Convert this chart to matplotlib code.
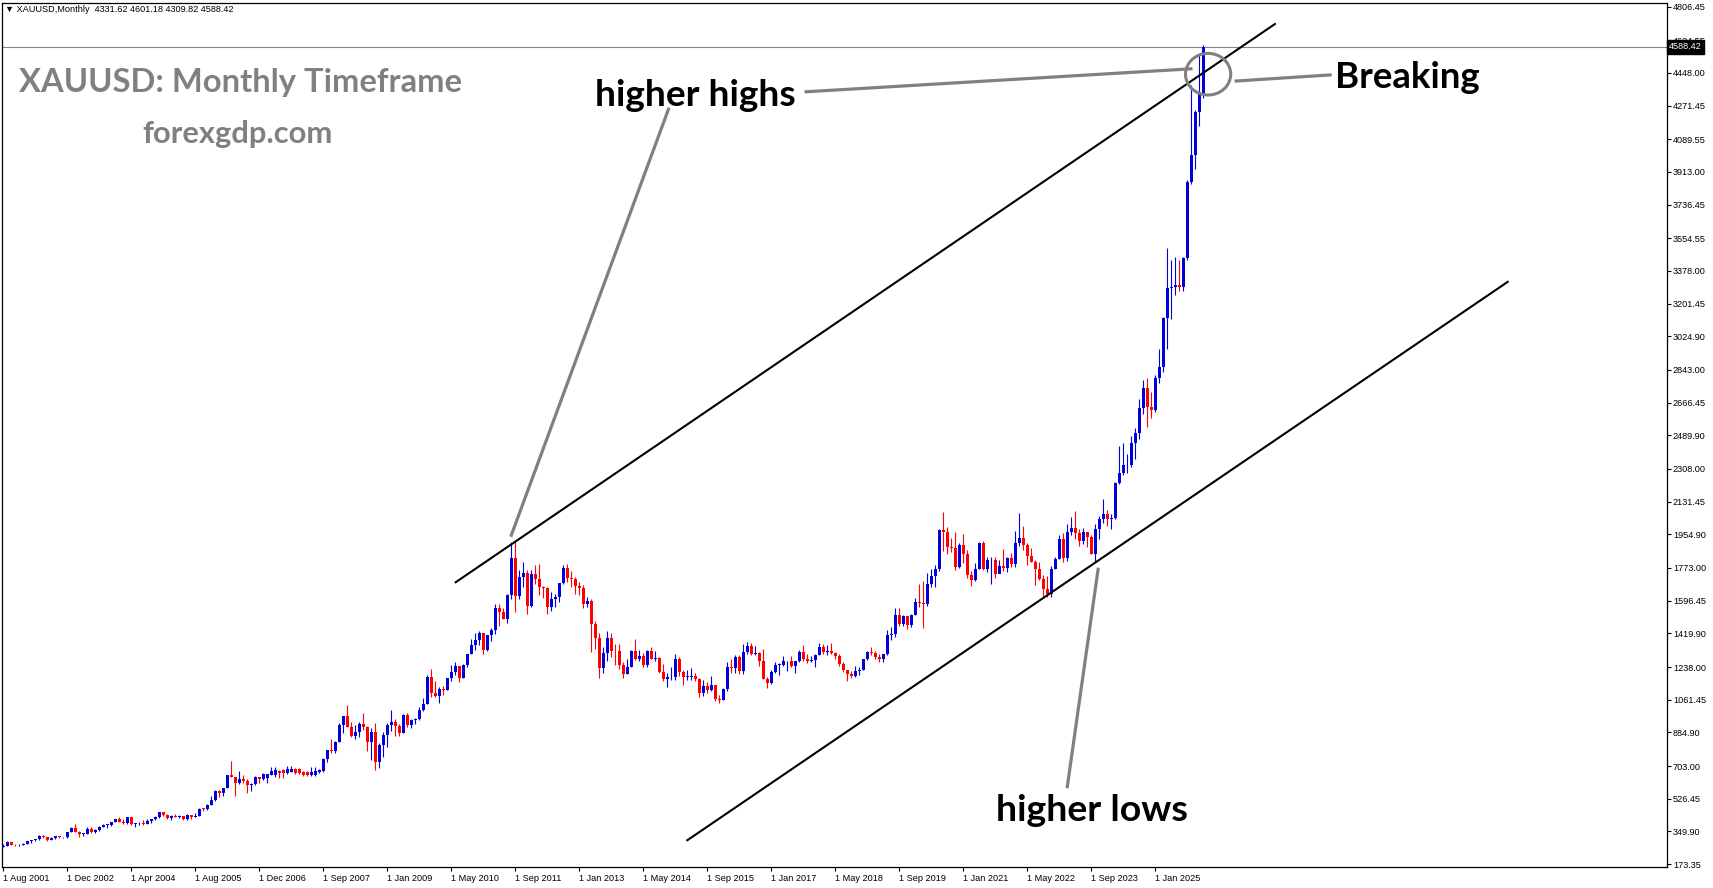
import numpy as np
import matplotlib
matplotlib.use("Agg")
import matplotlib.pyplot as plt
from matplotlib.patches import Ellipse
import matplotlib.transforms as mtransforms

# ---------------- data: XAUUSD monthly bars (broker bars, Aug 2001 .. Jan 2026) ----------------
opens = [
    266, 273, 293, 279, 275,
    279, 282, 297, 301, 308, 327, 318, 305, 313, 324, 317, 318,
    347, 367, 347, 335, 337, 361, 346, 355, 376, 384, 386, 398,
    416, 400, 397, 427, 388, 393, 396, 391, 407, 416, 428, 453,
    438, 422, 435, 429, 435, 417, 437, 430, 433, 472, 470, 494,
    517, 568, 556, 583, 654, 643, 614, 632, 624, 599, 604, 646,
    634, 637, 655, 655, 678, 683, 665, 673, 687, 687, 673, 673, 655, 655, 669,
    678, 743, 790, 784,
    834, 923, 972, 916, 863, 886, 928, 913, 833, 885, 724, 815,
    870, 927, 943, 917, 883, 979, 927, 954, 956, 1008, 1040, 1182,
    1095, 1082, 1118, 1113, 1179, 1213, 1246, 1181, 1248, 1307, 1358, 1386,
    1421, 1332, 1411, 1439, 1556, 1536, 1500, 1628, 1829, 1620, 1725, 1746,
    1566, 1738, 1711, 1668, 1664, 1560, 1604, 1614, 1692, 1773, 1720, 1713,
    1676, 1664, 1579, 1596, 1472, 1393, 1235, 1313, 1395, 1327, 1323, 1251,
    1202, 1240, 1327, 1284, 1296, 1250, 1327, 1283, 1287, 1209, 1171, 1182,
    1184, 1283, 1213, 1183, 1183, 1190, 1172, 1095, 1134, 1115, 1142, 1065,
    1061, 1118, 1238, 1234, 1293, 1215, 1321, 1351, 1309, 1316, 1273, 1174,
    1152, 1211, 1248, 1249, 1268, 1269, 1242, 1269, 1321, 1280, 1270, 1275,
    1303, 1345, 1318, 1325, 1316, 1298, 1253, 1224, 1201, 1192, 1215, 1222,
    1283, 1321, 1313, 1292, 1284, 1306, 1410, 1414, 1520, 1472, 1514, 1464,
    1517, 1589, 1586, 1577, 1686, 1730, 1768, 1976, 1968, 1887, 1879, 1777,
    1898, 1848, 1734, 1708, 1769, 1907, 1770, 1814, 1814, 1743, 1783, 1775,
    1829, 1797, 1909, 1937, 1897, 1837, 1807, 1766, 1711, 1661, 1634, 1769,
    1824, 1928, 1827, 1969, 1990, 1963, 1919, 1965, 1940, 1849, 1984, 2036,
    2063, 2040, 2044, 2230, 2286, 2327, 2327, 2448, 2503, 2635, 2744, 2643,
    2625, 2798, 2858, 3124, 3288, 3289, 3303, 3290, 3448, 3859, 4003, 4239,
    4331.62,
]
highs = [
    282, 296, 294, 284, 281,
    285, 299, 304, 310, 328, 332, 320, 318, 326, 326, 322, 349,
    372, 389, 354, 342, 373, 372, 362, 379, 392, 392, 399, 417,
    427, 417, 428, 428, 395, 401, 409, 415, 418, 434, 455, 456,
    443, 438, 446, 437, 432, 442, 437, 448, 474, 478, 496, 540,
    572, 573, 585, 654, 730, 643, 675, 654, 631, 614, 650, 638,
    663, 662, 696, 696, 681, 686, 705, 702, 692, 690, 676, 676, 696, 696, 685,
    745, 791, 848, 839,
    935, 976, 1032, 941, 924, 941, 989, 917, 910, 934, 829, 888,
    936, 1006, 959, 931, 984, 990, 959, 965, 1024, 1070, 1195, 1227,
    1162, 1128, 1135, 1180, 1249, 1266, 1243, 1252, 1310, 1387, 1424, 1431,
    1424, 1412, 1448, 1576, 1577, 1556, 1633, 1912, 1921, 1760, 1803, 1764,
    1764, 1791, 1793, 1676, 1668, 1641, 1632, 1692, 1788, 1796, 1755, 1724,
    1695, 1683, 1617, 1604, 1488, 1424, 1348, 1434, 1424, 1362, 1361, 1267,
    1280, 1332, 1392, 1331, 1315, 1332, 1345, 1322, 1294, 1255, 1208, 1239,
    1307, 1293, 1224, 1224, 1232, 1205, 1178, 1170, 1157, 1191, 1143, 1088,
    1123, 1263, 1283, 1304, 1304, 1362, 1375, 1367, 1352, 1318, 1337, 1182,
    1220, 1264, 1261, 1295, 1271, 1296, 1271, 1331, 1357, 1306, 1299, 1307,
    1366, 1361, 1356, 1366, 1317, 1309, 1265, 1223, 1214, 1243, 1237, 1284,
    1326, 1346, 1324, 1310, 1306, 1439, 1453, 1555, 1557, 1517, 1516, 1524,
    1611, 1689, 1704, 1748, 1765, 1789, 1984, 2075, 1992, 1933, 1966, 1906,
    1959, 1871, 1756, 1798, 1913, 1917, 1834, 1834, 1834, 1814, 1877, 1831,
    1853, 1974, 2070, 1998, 1909, 1879, 1814, 1808, 1735, 1730, 1786, 1833,
    1950, 1960, 2010, 2049, 2079, 1984, 1988, 1949, 1953, 2009, 2052, 2146,
    2088, 2065, 2236, 2432, 2450, 2388, 2484, 2531, 2686, 2790, 2801, 2726,
    2817, 2956, 3128, 3500, 3435, 3452, 3439, 3454, 3871, 4381, 4245, 4550,
    4601.18,
]
lows = [
    265, 271, 276, 272, 271,
    277, 281, 287, 299, 306, 316, 299, 301, 310, 312, 315, 316,
    345, 346, 320, 323, 336, 343, 341, 352, 372, 368, 377, 398,
    398, 391, 389, 386, 371, 384, 387, 389, 396, 413, 421, 431,
    418, 410, 425, 422, 414, 414, 417, 429, 433, 460, 467, 491,
    513, 537, 541, 582, 643, 543, 605, 614, 560, 570, 599, 612,
    628, 610, 652, 642, 637, 637, 662, 670, 660, 660, 650, 650, 650, 650, 666,
    671, 726, 775, 776,
    832, 880, 912, 859, 847, 858, 897, 786, 737, 681, 694, 751,
    807, 894, 866, 866, 880, 913, 908, 930, 952, 1003, 1040, 1075,
    1074, 1045, 1087, 1113, 1164, 1196, 1155, 1177, 1240, 1306, 1330, 1358,
    1309, 1324, 1381, 1418, 1462, 1496, 1478, 1605, 1534, 1603, 1671, 1523,
    1562, 1689, 1627, 1613, 1527, 1539, 1564, 1591, 1684, 1699, 1672, 1635,
    1626, 1555, 1564, 1321, 1338, 1180, 1208, 1271, 1292, 1251, 1227, 1181,
    1202, 1238, 1277, 1268, 1240, 1240, 1281, 1273, 1205, 1161, 1131, 1168,
    1167, 1191, 1142, 1170, 1170, 1162, 1077, 1080, 1098, 1107, 1052, 1046,
    1062, 1107, 1208, 1207, 1199, 1199, 1310, 1301, 1302, 1241, 1171, 1122,
    1146, 1206, 1194, 1241, 1214, 1237, 1204, 1266, 1271, 1260, 1264, 1236,
    1302, 1307, 1303, 1310, 1282, 1245, 1211, 1160, 1180, 1182, 1196, 1221,
    1276, 1303, 1280, 1266, 1266, 1301, 1382, 1400, 1459, 1459, 1445, 1454,
    1517, 1562, 1451, 1568, 1670, 1671, 1757, 1863, 1848, 1860, 1764, 1775,
    1802, 1717, 1677, 1705, 1765, 1761, 1750, 1688, 1721, 1746, 1759, 1753,
    1780, 1780, 1890, 1872, 1787, 1805, 1681, 1710, 1615, 1617, 1617, 1765,
    1824, 1805, 1810, 1950, 1932, 1893, 1903, 1884, 1846, 1810, 1931, 2016,
    2002, 1984, 2039, 2229, 2277, 2286, 2319, 2364, 2472, 2604, 2536, 2583,
    2614, 2772, 2833, 2957, 3121, 3248, 3268, 3268, 3436, 3850, 3928, 4162,
    4309.82,
]
closes = [
    273, 293, 279, 275, 279,
    282, 297, 301, 308, 327, 318, 305, 313, 324, 317, 318, 347,
    367, 347, 335, 337, 361, 346, 355, 376, 384, 386, 398, 416,
    400, 397, 427, 388, 393, 396, 391, 407, 416, 428, 453, 438,
    422, 435, 429, 435, 417, 437, 430, 433, 472, 470, 494, 517,
    568, 556, 583, 654, 643, 614, 632, 624, 599, 604, 646, 632,
    660, 660, 678, 683, 665, 665, 687, 687, 665, 665, 655, 655, 673, 678, 683,
    743, 790, 784, 834,
    923, 972, 916, 863, 886, 928, 913, 833, 885, 724, 815, 870,
    927, 943, 917, 883, 979, 927, 954, 956, 1008, 1040, 1182, 1095,
    1082, 1118, 1113, 1179, 1213, 1246, 1181, 1248, 1307, 1358, 1386, 1421,
    1332, 1411, 1439, 1556, 1536, 1500, 1628, 1829, 1620, 1725, 1746, 1566,
    1738, 1711, 1668, 1664, 1560, 1604, 1614, 1692, 1773, 1720, 1713, 1676,
    1664, 1579, 1596, 1472, 1393, 1235, 1313, 1395, 1327, 1323, 1251, 1202,
    1240, 1327, 1284, 1296, 1250, 1327, 1283, 1287, 1209, 1171, 1182, 1184,
    1283, 1213, 1183, 1183, 1190, 1172, 1095, 1134, 1115, 1142, 1065, 1061,
    1118, 1238, 1234, 1293, 1215, 1321, 1351, 1309, 1316, 1273, 1174, 1152,
    1211, 1248, 1249, 1268, 1269, 1242, 1269, 1321, 1280, 1270, 1275, 1303,
    1345, 1318, 1325, 1316, 1298, 1253, 1224, 1201, 1192, 1215, 1222, 1283,
    1321, 1313, 1292, 1284, 1306, 1410, 1414, 1520, 1472, 1514, 1464, 1517,
    1589, 1586, 1577, 1686, 1730, 1768, 1976, 1968, 1887, 1879, 1777, 1898,
    1848, 1734, 1708, 1769, 1907, 1770, 1814, 1814, 1743, 1783, 1775, 1829,
    1797, 1909, 1937, 1897, 1837, 1807, 1766, 1711, 1661, 1634, 1769, 1824,
    1928, 1827, 1969, 1990, 1963, 1919, 1965, 1940, 1849, 1984, 2036, 2063,
    2040, 2044, 2230, 2286, 2327, 2327, 2448, 2503, 2635, 2744, 2643, 2625,
    2798, 2858, 3124, 3288, 3289, 3303, 3290, 3448, 3859, 4003, 4239, 4332,
    4588.42,
]

# time axis labels (every 16 bars)
date_ticks = list(range(0, 289, 16))
date_labels = ["1 Aug 2001", "1 Dec 2002", "1 Apr 2004", "1 Aug 2005", "1 Dec 2006",
               "1 Sep 2007", "1 Jan 2009", "1 May 2010", "1 Sep 2011", "1 Jan 2013",
               "1 May 2014", "1 Sep 2015", "1 Jan 2017", "1 May 2018", "1 Sep 2019",
               "1 Jan 2021", "1 May 2022", "1 Sep 2023", "1 Jan 2025"]
price_ticks = [4806.45, 4624.55, 4448.00, 4271.45, 4089.55, 3913.00, 3736.45, 3554.55,
               3378.00, 3201.45, 3024.90, 2843.00, 2666.45, 2489.90, 2308.00, 2131.45,
               1954.90, 1773.00, 1596.45, 1419.90, 1238.00, 1061.45, 884.90, 703.00,
               526.45, 349.90, 173.35]
last_price = 4588.42

# channel lines (bar index, price)
upper_line = ([113.1, 317.9], [1696, 4712])
lower_line = ([171.0, 376.1], [302, 3319])

W, H = 1713, 888
BLUE = "#0000dd"
RED = "#ff0000"
GREY = "#808080"

fig = plt.figure(figsize=(W / 100, H / 100), dpi=100)
fig.patch.set_facecolor("white")
ax = fig.add_axes([2.3 / W, (H - 867.3) / H, (1666.7 - 2.3) / W, (867.3 - 3.3) / H])

o = np.array(opens, float)
h = np.array(highs, float)
l = np.array(lows, float)
c = np.array(closes, float)
x = np.arange(len(c))
up = c >= o
cols = np.where(up, BLUE, RED)

ax.vlines(x, l, h, colors=cols, linewidth=0.8, zorder=2)
body_lo = np.minimum(o, c)
body_h = np.maximum(np.abs(c - o), 4)
ax.bar(x, body_h, bottom=body_lo, width=0.75, color=cols, linewidth=0, zorder=3)

# current price line
ax.axhline(last_price, color="#778899", linewidth=0.8, zorder=1)

# channel
ax.plot(*upper_line, color="black", linewidth=1.5, zorder=4)
ax.plot(*lower_line, color="black", linewidth=1.5, zorder=4)

# grey pointers
ax.plot([166.3, 127.0], [4252, 1950], color=GREY, linewidth=2.3, zorder=5)
ax.plot([200.7, 296.9], [4346, 4470], color=GREY, linewidth=2.3, zorder=5)
ax.plot([308.2, 331.7], [4404, 4437], color=GREY, linewidth=2.3, zorder=5)
ax.plot([266.0, 273.7], [592, 1766], color=GREY, linewidth=2.3, zorder=5)
ax.add_patch(Ellipse((301.2, 4441), 11.3, 225, fill=False, edgecolor=GREY,
                     linewidth=2.2, zorder=5))

ax.set_xlim(-0.25, 415.85)
ax.set_ylim(155.9, 4824.0)

tick_font = dict(family=["Liberation Sans", "DejaVu Sans"], size=6.6)
ax.set_xticks(date_ticks)
ax.set_xticklabels(date_labels, fontdict=tick_font, ha="left")
ax.yaxis.tick_right()
ax.set_yticks(price_ticks)
ax.set_yticklabels([f"{v:.2f}" for v in price_ticks], fontdict=tick_font)
ax.tick_params(axis="x", direction="out", length=3, width=0.8, pad=1.5)
ax.tick_params(axis="y", direction="out", length=3, width=0.8, pad=1.5)
for sp in ax.spines.values():
    sp.set_linewidth(0.9)

# price box on the right scale
trans = mtransforms.blended_transform_factory(ax.transAxes, ax.transData)
ax.text(1.0015, last_price, "4588.42", transform=trans, ha="left", va="center",
        color="white", fontdict=tick_font, clip_on=False, zorder=6,
        bbox=dict(boxstyle="square,pad=0.25", facecolor="black", edgecolor="black"))

# header
fig.text(5 / W, 1 - 10 / H, "\u25bc XAUUSD,Monthly  4331.62 4601.18 4309.82 4588.42",
         ha="left", va="center", fontdict=tick_font, color="black")

# big labels, sized to the reference widths
renderer = fig.canvas.get_renderer()


def fit_text(x0, x1, ybase, s, color):
    t = fig.text(x0 / W, 1 - ybase / H, s, fontsize=28, fontweight="bold",
                 family=["Lato", "DejaVu Sans"], color=color, ha="left", va="baseline")
    w = t.get_window_extent(renderer).width
    t.set_fontsize(28 * (x1 - x0) / w)
    return t


fit_text(18.6, 462, 91.8, "XAUUSD: Monthly Timeframe", GREY)
fit_text(142, 332, 143, "forexgdp.com", GREY)
fit_text(595, 795, 106, "higher highs", "black")
fit_text(1335, 1480, 88.5, "Breaking", "black")
fit_text(996, 1188, 820.5, "higher lows", "black")

fig.savefig("out.png", dpi=100)
